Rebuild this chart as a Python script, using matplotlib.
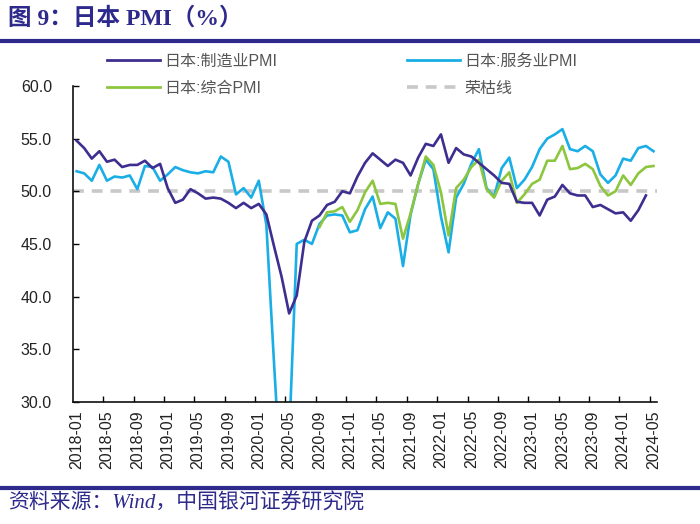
import numpy as np
import pandas as pd
import matplotlib
matplotlib.use('Agg')
import matplotlib.pyplot as plt
from matplotlib.lines import Line2D

plt.rcParams['font.family'] = ['Liberation Sans', 'Noto Sans CJK SC', 'DejaVu Sans']

# Monthly data, 2018-01 .. 2024-05
months = pd.period_range('2018-01', '2024-05', freq='M').strftime('%Y-%m').tolist()

# Japan manufacturing PMI (ends 2024-04)
manufacturing = [
    54.8, 54.1, 53.1, 53.8, 52.8, 53.0, 52.3, 52.5, 52.5, 52.9, 52.2, 52.6,
    50.3, 48.9, 49.2, 50.2, 49.8, 49.3, 49.4, 49.3, 48.9, 48.4, 48.9, 48.4,
    48.8, 47.8, 44.8, 41.9, 38.4, 40.1, 45.2, 47.2, 47.7, 48.7, 49.0, 50.0,
    49.8, 51.4, 52.7, 53.6, 53.0, 52.4, 53.0, 52.7, 51.5, 53.2, 54.5, 54.3,
    55.4, 52.7, 54.1, 53.5, 53.3, 52.7, 52.1, 51.5, 50.8, 50.7, 49.0, 48.9,
    48.9, 47.7, 49.2, 49.5, 50.6, 49.8, 49.6, 49.6, 48.5, 48.7, 48.3, 47.9,
    48.0, 47.2, 48.2, 49.6, None,
]

# Japan services PMI
services = [
    51.9, 51.7, 51.0, 52.5, 51.0, 51.4, 51.3, 51.5, 50.2, 52.4, 52.3, 51.0,
    51.6, 52.3, 52.0, 51.8, 51.7, 51.9, 51.8, 53.3, 52.8, 49.7, 50.3, 49.4,
    51.0, 46.8, 33.8, 21.5, 26.5, 45.0, 45.4, 45.0, 46.9, 47.7, 47.8, 47.7,
    46.1, 46.3, 48.3, 49.5, 46.5, 48.0, 47.4, 42.9, 47.8, 50.7, 53.0, 52.1,
    47.6, 44.2, 49.4, 50.7, 52.6, 54.0, 50.3, 49.5, 52.2, 53.2, 50.3, 51.1,
    52.3, 54.0, 55.0, 55.4, 55.9, 54.0, 53.8, 54.3, 53.8, 51.6, 50.8, 51.5,
    53.1, 52.9, 54.1, 54.3, 53.8,
]

# Japan composite PMI (from 2020-09)
composite = [None] * 32 + [
    46.6, 48.0, 48.1, 48.5,
    47.1, 48.2, 49.9, 51.0, 48.8, 48.9, 48.8, 45.5, 47.9, 50.7, 53.3, 52.5,
    49.9, 45.8, 50.3, 51.1, 52.3, 53.0, 50.2, 49.4, 51.0, 51.8, 48.9, 49.7,
    50.7, 51.1, 52.9, 52.9, 54.3, 52.1, 52.2, 52.6, 52.1, 50.5, 49.6, 50.0,
    51.5, 50.6, 51.7, 52.3, 52.4,
]

boom_bust = 50.0

to_arr = lambda v: np.array([np.nan if a is None else a for a in v], dtype=float)

fig = plt.figure(figsize=(7, 5.24), dpi=100)
ax = fig.add_axes([0.104, 0.233, 0.835, 0.603])

x = np.arange(len(months))
c_manu = '#3D2E8F'
c_serv = '#1AAEE6'
c_comp = '#8CC63F'
c_line = '#C8C8C8'

ax.axhline(boom_bust, color=c_line, lw=2.6, dashes=(3, 2.2), zorder=1)
ax.plot(x, to_arr(manufacturing), color=c_manu, lw=1.9, zorder=3)
ax.plot(x, to_arr(services), color=c_serv, lw=1.9, zorder=2)
ax.plot(x, to_arr(composite), color=c_comp, lw=1.9, zorder=2.5)

ax.set_xlim(-0.5, len(months) - 0.5)
ax.set_ylim(30, 60)
ax.set_yticks(np.arange(30, 61, 5))
ax.set_yticklabels([f'{v:.1f}' for v in np.arange(30, 61, 5)], fontsize=11.5, color='#222222')

# tick marks between categories, labels on categories
ax.set_xticks(np.arange(3.5, len(months) - 0.5, 4))
ax.set_xticklabels([])
ax.set_xticks(np.arange(0, len(months), 4), minor=True)
ax.set_xticklabels([months[i] for i in range(0, len(months), 4)], minor=True,
                   rotation=90, fontsize=11.5, color='#222222')
ax.tick_params(axis='x', which='major', direction='in', length=4, width=1)
ax.tick_params(axis='x', which='minor', length=0, pad=6)
ax.tick_params(axis='y', direction='in', length=4, width=1, pad=15)

for s in ['top', 'right']:
    ax.spines[s].set_visible(False)
for s in ['left', 'bottom']:
    ax.spines[s].set_linewidth(1.2)
    ax.spines[s].set_color('#111111')

handles = [
    Line2D([], [], color=c_manu, lw=2),
    Line2D([], [], color=c_comp, lw=2),
    Line2D([], [], color=c_serv, lw=2),
    Line2D([], [], color=c_line, lw=2.6, dashes=(3, 2.2)),
]
labels = ['日本:制造业PMI', '日本:综合PMI', '日本:服务业PMI', '荣枯线']
leg = fig.legend(handles, labels, ncol=2, loc='upper left', bbox_to_anchor=(0.153, 0.897),
                 frameon=False, borderpad=0, borderaxespad=0, handlelength=3.3,
                 handletextpad=0.3, columnspacing=8.1, labelspacing=0.75, fontsize=11.5)
for t in leg.get_texts():
    t.set_color('#555555')

# header and footer
navy = '#2E2A8C'
fig.text(0.012, 0.965, '图 9：日本 PMI（%）', fontsize=17, fontweight='bold', color=navy,
         va='center', ha='left', family=['Liberation Serif', 'Noto Sans CJK SC'])
fig.add_artist(Line2D([0, 1], [1 - 41 / 524] * 2, color=navy, lw=3))
fig.add_artist(Line2D([0, 1], [1 - 488 / 524] * 2, color=navy, lw=3))
fig.text(0.012, 1 - 504 / 524, '资料来源：Wind，中国银河证券研究院', fontsize=15, color=navy,
         style='italic', va='center', ha='left', family=['Liberation Serif', 'Noto Sans CJK SC'])

fig.savefig('out.png', dpi=100)
